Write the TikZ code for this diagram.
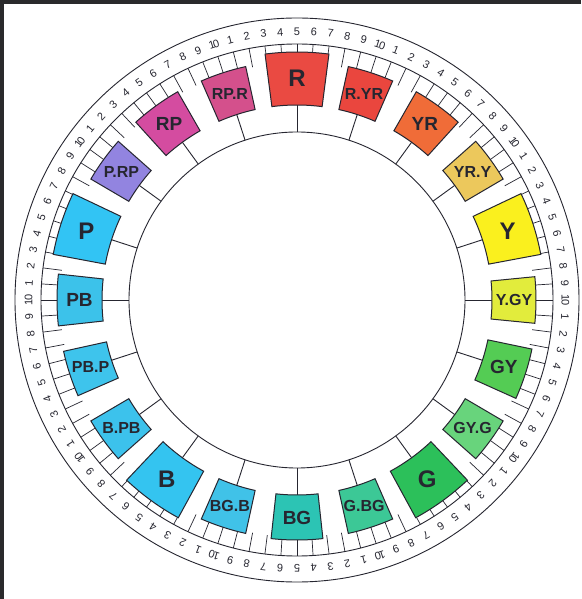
\documentclass[tikz,border=0pt]{standalone}
\usepackage{fontspec}
\setmainfont{Liberation Sans}
\usetikzlibrary{positioning}
\definecolor{frame}{RGB}{42,42,44}
\definecolor{ink}{RGB}{38,38,48}
\definecolor{hueR}{RGB}{234,74,66}
\definecolor{hueRYR}{RGB}{234,70,62}
\definecolor{hueYR}{RGB}{240,108,56}
\definecolor{hueYRY}{RGB}{236,200,92}
\definecolor{hueY}{RGB}{250,240,30}
\definecolor{hueYGY}{RGB}{226,236,60}
\definecolor{hueGY}{RGB}{84,204,84}
\definecolor{hueGYG}{RGB}{104,212,124}
\definecolor{hueG}{RGB}{44,192,90}
\definecolor{hueGBG}{RGB}{60,200,150}
\definecolor{hueBG}{RGB}{44,196,180}
\definecolor{hueBGB}{RGB}{64,194,232}
\definecolor{hueB}{RGB}{52,196,240}
\definecolor{hueBPB}{RGB}{60,194,236}
\definecolor{huePBP}{RGB}{62,196,236}
\definecolor{huePB}{RGB}{60,194,234}
\definecolor{hueP}{RGB}{50,196,244}
\definecolor{huePRP}{RGB}{146,132,224}
\definecolor{hueRP}{RGB}{212,76,160}
\definecolor{hueRPR}{RGB}{212,80,140}

\tikzset{
  ring/.style={draw=ink, line width=0.9pt},
  scaletick/.style={draw=ink, line width=0.7pt},
  patch/.style={draw=ink, line width=1pt},
  hue/.style={text=ink, inner sep=0pt},
  num/.style={text=ink, inner sep=0pt, font=\fontsize{11}{11}\selectfont}
}

\begin{document}
\begin{tikzpicture}[x=1pt, y=1pt]
\fill[frame] (-297,-299) rectangle (284,300);
\fill[white] (-293,-299) rectangle (284,296);
\useasboundingbox (-297,-299) rectangle (284,300);

\draw[ring] (0,0) circle[radius=282];
\draw[ring] (0,0) circle[radius=256];
\draw[ring] (0,0) circle[radius=168];

\foreach \k in {0,...,99} {
  \pgfmathsetmacro\a{90-3.6*\k}
  \pgfmathtruncatemacro\n{mod(4+\k,10)+1}
  \draw[scaletick] (\a:256) -- (\a:237);
  \node[num, rotate=\a-90] (n\k) at (\a:268.5) {\ifnum\n=10 1\kern-1.5pt0\else\n\fi};
}

\foreach \a/\w/\r/\c/\t/\s/\m in {
  90/7.4/248/hueR/R/24/r, 72/5.6/239/hueRYR/R.YR/16/ryr,
  54/6.2/240/hueYR/YR/19/yr, 36/5.6/239/hueYRY/YR.Y/16/yry,
  18/7.4/248/hueY/Y/24/y, 0/5.6/239/hueYGY/Y.GY/16/ygy,
  -18/6.2/240/hueGY/GY/19/gy, -36/5.6/239/hueGYG/GY.G/16/gyg,
  -54/7.4/248/hueG/G/24/g, -72/5.6/239/hueGBG/G.BG/16/gbg,
  -90/6.2/240/hueBG/BG/19/bg, -108/5.6/239/hueBGB/BG.B/16/bgb,
  -126/7.4/248/hueB/B/24/b, -144/5.6/239/hueBPB/B.PB/16/bpb,
  -162/5.6/239/huePBP/PB.P/16/pbp, -180/6.2/240/huePB/PB/19/pb,
  162/7.4/248/hueP/P/24/p, 144/5.6/239/huePRP/P.RP/16/prp,
  126/6.2/240/hueRP/RP/19/rp, 108/5.6/239/hueRPR/RP.R/16/rpr}
{
  \coordinate (s\m) at (\a:168);
  \coordinate (e\m) at (\a:195);
  \draw[ring] (s\m) -- (e\m);
  \filldraw[patch, fill=\c] (\a-\w:195) -- (\a-\w:\r)
    arc[start angle=\a-\w, end angle=\a+\w, radius=\r] -- (\a+\w:195)
    arc[start angle=\a+\w, end angle=\a-\w, radius=195] -- cycle;
  \node[hue, font=\fontsize{\s}{\s}\selectfont\bfseries] (l\m) at (\a:{(195+\r)/2}) {\t};
}
\end{tikzpicture}
\end{document}
